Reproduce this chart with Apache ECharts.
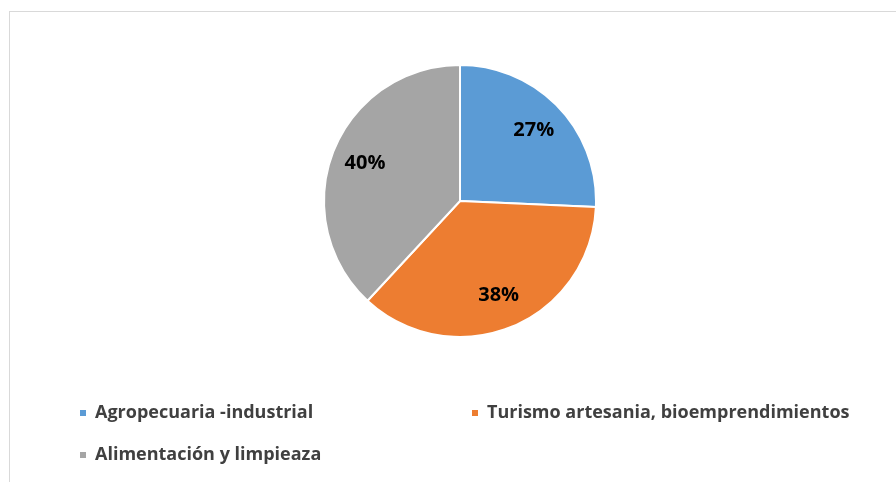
<!DOCTYPE html>
<html><head><meta charset="utf-8">
<script src="https://cdn.jsdelivr.net/npm/echarts@6/dist/echarts.min.js"></script>
<style>
html,body{margin:0;padding:0;background:#fff;}
#frame{position:absolute;left:9px;top:11px;width:900px;height:480px;border-top:1px solid #d9d9d9;border-left:1px solid #d9d9d9;}
#c{position:absolute;left:0;top:0;width:896px;height:482px;}
</style></head>
<body>
<div id="frame"></div>
<div id="c"></div>
<script>
const categories = ['Agropecuaria -industrial', 'Turismo artesania, bioemprendimientos', 'Alimentación y limpieaza'];
const values = [27, 38, 40];
const colors = ['#5B9BD5', '#ED7D31', '#A5A5A5'];

const chart = echarts.init(document.getElementById('c'), null, {renderer: 'canvas'});
const font = '"Open Sans", sans-serif';
const pieData = categories.map((n, i) => ({name: n, value: values[i], itemStyle: {color: colors[i]}}));
const legendText = {fontFamily: font, fontWeight: 'bold', fontSize: 18, color: '#404040', padding: [0, 0, 0, 3]};
function legend(i, left, top) {
  return {data: [categories[i]], left: left, top: top, icon: 'rect', itemWidth: 8, itemHeight: 8,
    itemGap: 0, padding: 0, textStyle: legendText, selectedMode: false};
}
chart.setOption({
  animation: false,
  legend: [legend(0, 78, 404), legend(1, 470, 404), legend(2, 78, 446)],
  series: [{
    type: 'pie', center: [460, 201], radius: [0, 136], startAngle: 90, clockwise: true,
    data: pieData, label: {show: false}, labelLine: {show: false},
    itemStyle: {borderColor: '#fff', borderWidth: 2}, emphasis: {disabled: true}, silent: true
  }, {
    type: 'pie', center: [460, 201], radius: [0, 198], startAngle: 90, clockwise: true,
    data: categories.map((n, i) => ({name: n, value: values[i]})),
    itemStyle: {color: 'rgba(0,0,0,0)'}, legendHoverLink: false,
    label: {show: true, position: 'inside', formatter: p => p.value + '%',
      fontFamily: font, fontWeight: 'bold', fontSize: 20, color: '#000'},
    labelLine: {show: false}, emphasis: {disabled: true}, silent: true
  }]
});
</script>
</body></html>
